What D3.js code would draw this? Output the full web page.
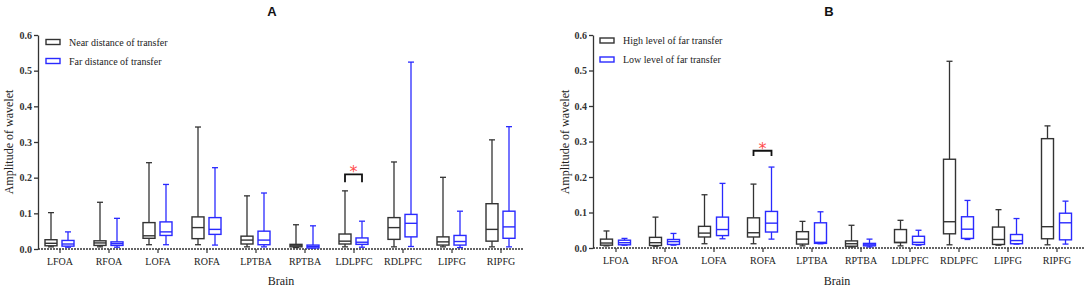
<!DOCTYPE html>
<html>
<head>
<meta charset="utf-8">
<script src="https://cdn.jsdelivr.net/npm/d3@7"></script>
<style>
  html, body { margin: 0; padding: 0; background: #fff; }
  svg { display: block; }
</style>
</head>
<body>
<div class="canvas"></div>
<script>
// brain regions (x categories)
const regions = ["LFOA", "RFOA", "LOFA", "ROFA", "LPTBA", "RPTBA", "LDLPFC", "RDLPFC", "LIPFG", "RIPFG"];
const yTicks = [0, 0.1, 0.2, 0.3, 0.4, 0.5, 0.6];

// box stats: [min, q1, median, q3, max]
// panel A
const nearDistance = [
  [0.006, 0.009, 0.016, 0.026, 0.102],
  [0.006, 0.010, 0.017, 0.023, 0.131],
  [0.012, 0.030, 0.037, 0.074, 0.242],
  [0.012, 0.029, 0.060, 0.090, 0.342],
  [0.006, 0.014, 0.025, 0.036, 0.149],
  [0.004, 0.006, 0.009, 0.013, 0.068],
  [0.006, 0.014, 0.022, 0.042, 0.163],
  [0.006, 0.027, 0.060, 0.088, 0.244],
  [0.006, 0.011, 0.020, 0.034, 0.201],
  [0.006, 0.022, 0.055, 0.127, 0.306]
];
const farDistance = [
  [0.005, 0.008, 0.014, 0.024, 0.048],
  [0.005, 0.010, 0.015, 0.020, 0.086],
  [0.012, 0.038, 0.048, 0.076, 0.181],
  [0.011, 0.041, 0.055, 0.088, 0.228],
  [0.006, 0.012, 0.025, 0.050, 0.157],
  [0.003, 0.003, 0.007, 0.011, 0.065],
  [0.005, 0.013, 0.019, 0.031, 0.078],
  [0.007, 0.034, 0.072, 0.097, 0.524],
  [0.004, 0.011, 0.021, 0.038, 0.106],
  [0.006, 0.030, 0.062, 0.106, 0.343]
];
// panel B
const highFar = [
  [0.006, 0.008, 0.014, 0.025, 0.048],
  [0.005, 0.007, 0.015, 0.030, 0.087],
  [0.012, 0.031, 0.042, 0.061, 0.150],
  [0.012, 0.031, 0.043, 0.085, 0.180],
  [0.006, 0.011, 0.025, 0.046, 0.075],
  [0.003, 0.005, 0.012, 0.020, 0.064],
  [0.006, 0.015, 0.016, 0.052, 0.078],
  [0.009, 0.040, 0.074, 0.250, 0.526],
  [0.008, 0.010, 0.024, 0.059, 0.108],
  [0.009, 0.026, 0.060, 0.308, 0.344]
];
const lowFar = [
  [0.008, 0.009, 0.015, 0.022, 0.027],
  [0.008, 0.010, 0.018, 0.024, 0.041],
  [0.026, 0.035, 0.052, 0.087, 0.182],
  [0.025, 0.045, 0.070, 0.103, 0.228],
  [0.012, 0.013, 0.016, 0.071, 0.102],
  [0.003, 0.006, 0.009, 0.013, 0.025],
  [0.008, 0.010, 0.016, 0.033, 0.050],
  [0.024, 0.027, 0.053, 0.088, 0.134],
  [0.011, 0.012, 0.021, 0.038, 0.083],
  [0.011, 0.023, 0.071, 0.098, 0.132]
];

const black = "#333333", blue = "#2a2aff";
const serif = "'Liberation Serif', 'Times New Roman', serif";

const svg = d3.select(".canvas").append("svg")
  .attr("width", 1084)
  .attr("height", 288);

function drawPanel(p) {
  const g = svg.append("g");

  const x = d3.scalePoint().domain(regions).range([p.firstX, p.firstX + 9 * 49]);
  const y = d3.scaleLinear().domain([0, 0.6]).range([p.zeroY, 35]);

  // y axis
  const yAxis = d3.axisLeft(y).tickValues(yTicks).tickFormat(d3.format(".1f")).tickSize(4).tickSizeOuter(0);
  const gy = g.append("g")
    .attr("transform", `translate(${p.axisX},0)`)
    .call(yAxis);
  gy.select(".domain").attr("stroke", black).attr("stroke-width", 1.3);
  gy.selectAll(".tick line").attr("stroke", black).attr("stroke-width", 1.3);
  gy.selectAll(".tick text")
    .attr("x", -6)
    .style("font-family", serif).style("font-size", "10px").style("font-weight", "bold")
    .attr("fill", black);

  // x axis: dashed baseline at 0
  g.append("line")
    .attr("x1", p.axisX).attr("x2", p.axisEnd)
    .attr("y1", y(0)).attr("y2", y(0))
    .attr("stroke", black).attr("stroke-width", 1.6)
    .attr("stroke-dasharray", "2,1");

  const xAxis = d3.axisBottom(x).tickSize(4).tickSizeOuter(0);
  const gx = g.append("g")
    .attr("transform", `translate(0,${y(0)})`)
    .call(xAxis);
  gx.select(".domain").remove();
  gx.selectAll(".tick line").attr("stroke", black).attr("stroke-width", 1.2);
  gx.selectAll(".tick text")
    .attr("y", 9)
    .style("font-family", serif).style("font-size", "10px")
    .attr("fill", "#222");

  // boxes
  const bw = 12, cap = 6;
  p.groups.forEach((grp, gi) => {
    const off = gi === 0 ? -p.offset : p.offset;
    const bg = g.append("g").selectAll("g")
      .data(grp.values)
      .join("g")
      .attr("transform", (d, i) => `translate(${x(regions[i]) + off},0)`);
    bg.append("line") // whisker
      .attr("x1", 0).attr("x2", 0)
      .attr("y1", d => y(d[0])).attr("y2", d => y(d[4]))
      .attr("stroke", grp.color).attr("stroke-width", 1.3);
    bg.append("line") // top cap
      .attr("x1", -cap / 2).attr("x2", cap / 2)
      .attr("y1", d => y(d[4])).attr("y2", d => y(d[4]))
      .attr("stroke", grp.color).attr("stroke-width", 1.3);
    bg.append("line") // bottom cap
      .attr("x1", -cap / 2).attr("x2", cap / 2)
      .attr("y1", d => y(d[0])).attr("y2", d => y(d[0]))
      .attr("stroke", grp.color).attr("stroke-width", 1.3);
    bg.append("rect")
      .attr("x", -bw / 2).attr("width", bw)
      .attr("y", d => y(d[3]))
      .attr("height", d => y(d[1]) - y(d[3]))
      .attr("fill", "#fff")
      .attr("stroke", grp.color).attr("stroke-width", 1.4);
    bg.append("line") // median
      .attr("x1", -bw / 2).attr("x2", bw / 2)
      .attr("y1", d => y(d[2])).attr("y2", d => y(d[2]))
      .attr("stroke", grp.color).attr("stroke-width", 1.4);
  });

  // significance bracket
  const bx1 = x(p.sig.region) - p.offset, bx2 = x(p.sig.region) + p.offset;
  g.append("path")
    .attr("d", `M${bx1},${y(p.sig.low)}V${y(p.sig.high)}H${bx2}V${y(p.sig.low)}`)
    .attr("fill", "none").attr("stroke", "#111").attr("stroke-width", 1.8);
  g.append("text")
    .attr("x", x(p.sig.region)).attr("y", y(p.sig.high) + 3)
    .attr("text-anchor", "middle")
    .style("font-family", "'DejaVu Sans', sans-serif").style("font-size", "16px")
    .attr("fill", "#ff4d4d")
    .text("*");

  // legend
  const lg = g.append("g").selectAll("g")
    .data(p.groups)
    .join("g")
    .attr("transform", (d, i) => `translate(${p.legendX},${p.legendY + i * 19})`);
  lg.append("rect")
    .attr("x", 0).attr("y", -2.5).attr("width", 14).attr("height", 5)
    .attr("fill", "#fff").attr("stroke", d => d.color).attr("stroke-width", 1.4);
  lg.append("text")
    .attr("x", 23).attr("y", 3.5)
    .style("font-family", serif).style("font-size", "10px")
    .attr("fill", "#222")
    .text(d => d.label);

  // axis titles
  g.append("text")
    .attr("transform", `translate(${p.ylabX},142) rotate(-90)`)
    .attr("text-anchor", "middle")
    .style("font-family", serif).style("font-size", "12px")
    .attr("fill", "#222")
    .text("Amplitude of wavelet");
  g.append("text")
    .attr("x", p.brainX).attr("y", 285)
    .attr("text-anchor", "middle")
    .style("font-family", serif).style("font-size", "12px")
    .attr("fill", "#222")
    .text("Brain");
  g.append("text")
    .attr("x", p.titleX).attr("y", 16)
    .attr("text-anchor", "middle")
    .style("font-family", "'Liberation Sans', Arial, sans-serif").style("font-size", "13px").style("font-weight", "bold")
    .attr("fill", "#111")
    .text(p.title);
}

drawPanel({
  title: "A", titleX: 272,
  axisX: 38, axisEnd: 523, zeroY: 249, firstX: 59.5, offset: 8.5,
  ylabX: 13, brainX: 281,
  legendX: 46, legendY: 42,
  groups: [
    { label: "Near distance of transfer", color: black, values: nearDistance },
    { label: "Far distance of transfer", color: blue, values: farDistance }
  ],
  sig: { region: "LDLPFC", high: 0.209, low: 0.187 }
});

drawPanel({
  title: "B", titleX: 829,
  axisX: 593, axisEnd: 1084, zeroY: 248, firstX: 615.5, offset: 9,
  ylabX: 569, brainX: 837,
  legendX: 600, legendY: 40.5,
  groups: [
    { label: "High level of far transfer", color: black, values: highFar },
    { label: "Low level of far transfer", color: blue, values: lowFar }
  ],
  sig: { region: "ROFA", high: 0.274, low: 0.259 }
});
</script>
</body>
</html>
